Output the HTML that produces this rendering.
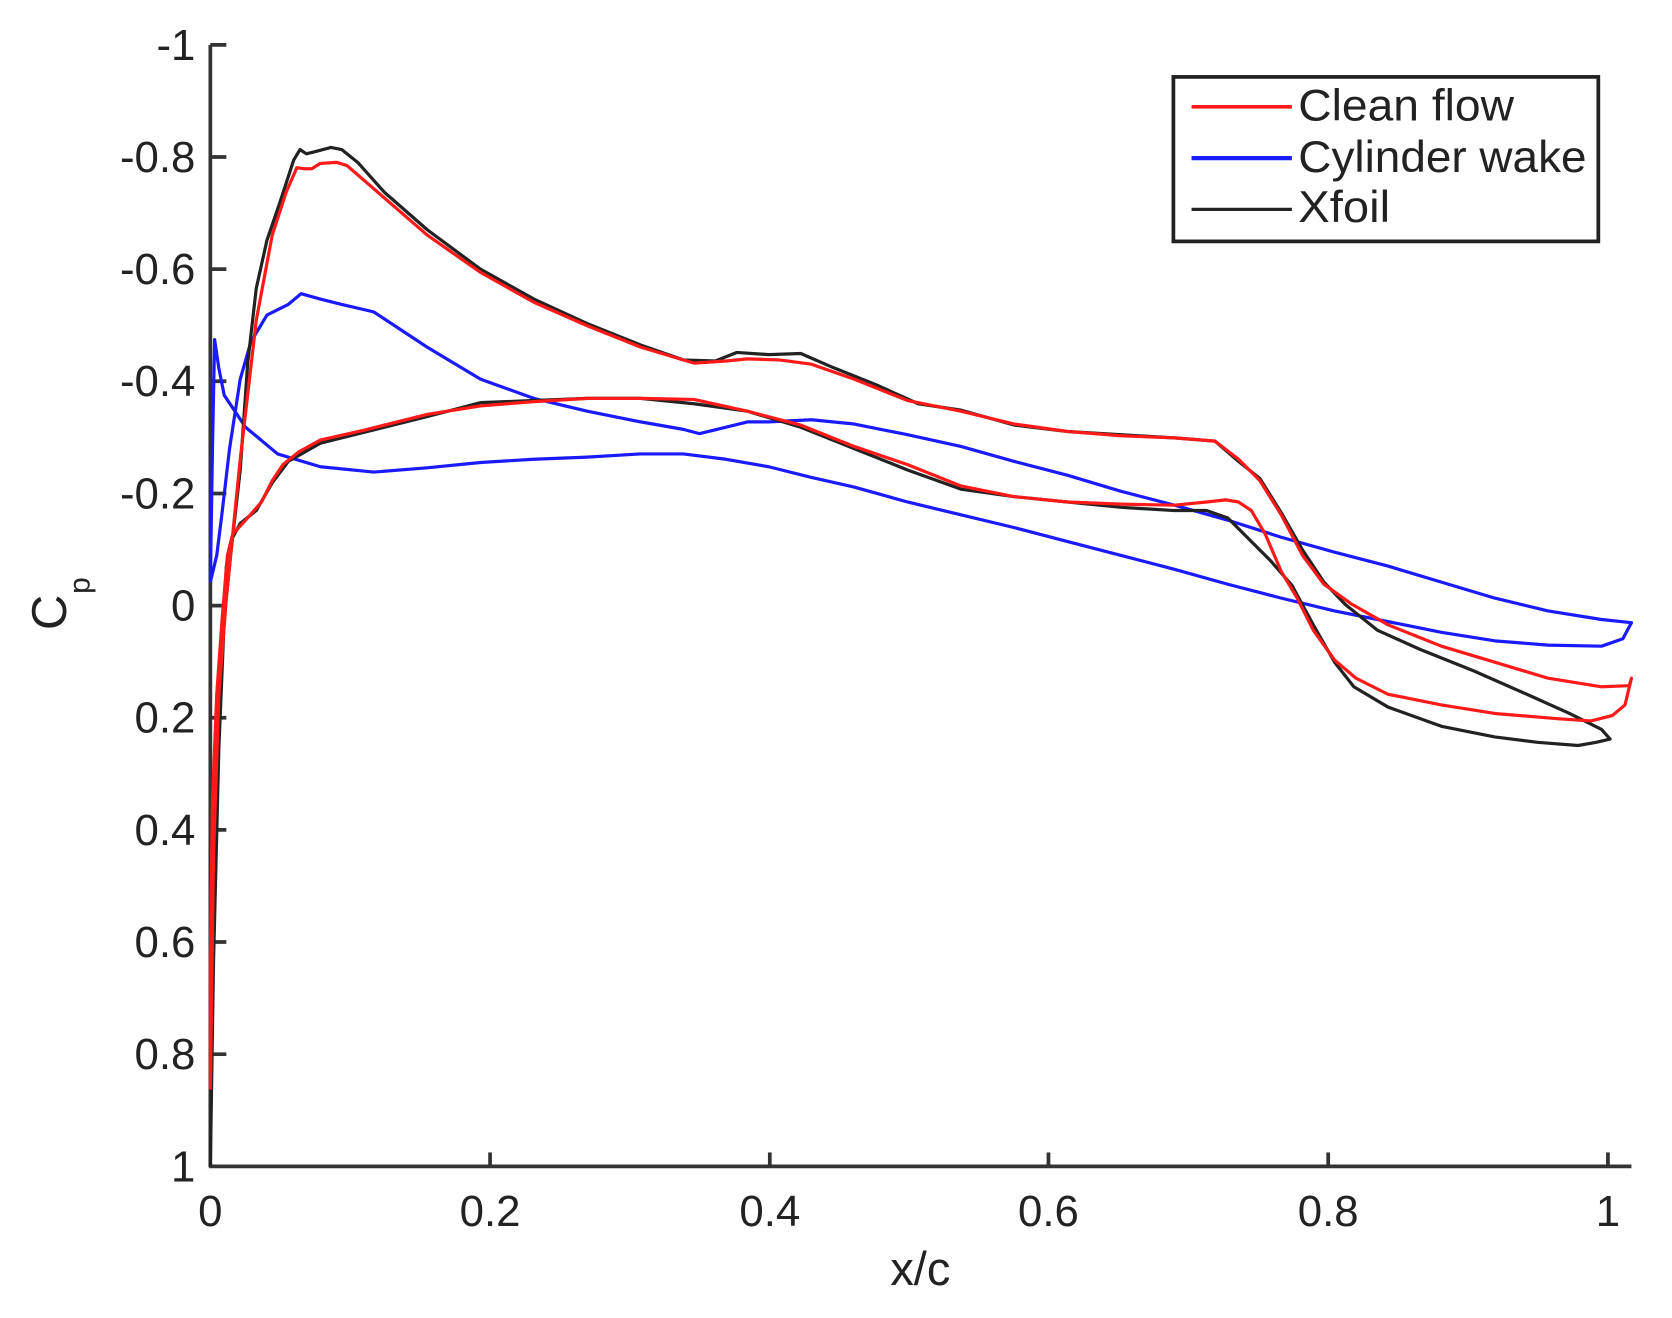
<!DOCTYPE html>
<html><head><meta charset="utf-8"><style>
html,body{margin:0;padding:0;background:#fff;}
svg{display:block;}
text{font-family:"Liberation Sans",sans-serif;fill:#222;}
</style></head><body>
<svg width="1672" height="1318" viewBox="0 0 1566 1234" preserveAspectRatio="none" xmlns="http://www.w3.org/2000/svg">
<rect width="1566" height="1234" fill="#fff"/>
<g stroke="#333" stroke-width="3.5" fill="none">
<line x1="197" y1="42" x2="197" y2="1093"/>
<line x1="196" y1="1092" x2="1528" y2="1092"/>
<line x1="197" y1="42" x2="212" y2="42"/>
<line x1="197" y1="147" x2="212" y2="147"/>
<line x1="197" y1="252" x2="212" y2="252"/>
<line x1="197" y1="357" x2="212" y2="357"/>
<line x1="197" y1="462" x2="212" y2="462"/>
<line x1="197" y1="567" x2="212" y2="567"/>
<line x1="197" y1="672" x2="212" y2="672"/>
<line x1="197" y1="777" x2="212" y2="777"/>
<line x1="197" y1="882" x2="212" y2="882"/>
<line x1="197" y1="987" x2="212" y2="987"/>
<line x1="459" y1="1092" x2="459" y2="1079"/>
<line x1="721" y1="1092" x2="721" y2="1079"/>
<line x1="982" y1="1092" x2="982" y2="1079"/>
<line x1="1244" y1="1092" x2="1244" y2="1079"/>
<line x1="1506" y1="1092" x2="1506" y2="1079"/>
</g>
<g font-size="41" text-anchor="end">
<text x="183" y="56">-1</text>
<text x="183" y="161">-0.8</text>
<text x="183" y="266">-0.6</text>
<text x="183" y="371">-0.4</text>
<text x="183" y="476">-0.2</text>
<text x="183" y="581">0</text>
<text x="183" y="686">0.2</text>
<text x="183" y="791">0.4</text>
<text x="183" y="896">0.6</text>
<text x="183" y="1001">0.8</text>
<text x="183" y="1106">1</text>
</g>
<g font-size="41" text-anchor="middle">
<text x="197" y="1148">0</text>
<text x="459" y="1148">0.2</text>
<text x="721" y="1148">0.4</text>
<text x="982" y="1148">0.6</text>
<text x="1244" y="1148">0.8</text>
<text x="1506" y="1148">1</text>
<text x="862" y="1203" font-size="44">x/c</text>
</g>
<g transform="translate(62,590) rotate(-90)"><text font-size="46" x="0" y="0">C</text><text font-size="28" x="34" y="22">p</text></g>
<g fill="none" stroke-linejoin="round">
<polyline stroke="#1a1aff" stroke-width="3" points="197,545 199,420 201,318 205,345 210,370 230,400 260,425 300,437 350,442 400,438 450,433 500,430 550,428 600,425 640,425 680,430 720,437 760,447 800,456 850,470 900,482 950,494 1000,507 1050,520 1100,533 1150,547 1200,560 1250,572 1300,582 1350,592 1400,600 1450,604 1500,605 1520,598 1528,583 1500,580 1450,572 1400,560 1350,545 1300,530 1250,517 1200,503 1150,487 1100,473 1050,460 1000,445 950,432 900,418 850,407 800,397 760,393 720,395 700,395 680,400 655,406 640,402 600,395 550,385 500,373 450,355 400,325 350,292 320,285 300,280 282,275 270,285 250,295 235,320 225,355 215,420 208,480 203,520 197,545"/>
<polyline stroke="#222" stroke-width="3" points="197,1092 200,900 205,700 210,580 216,520 225,440 232,340 240,270 250,225 262,190 275,150 281,140 287,144 295,142 310,138 320,140 335,152 360,180 400,215 450,252 500,280 550,303 600,323 640,337 670,338 690,330 720,332 750,331 780,344 820,360 860,378 900,384 950,398 1000,404 1050,407 1100,410 1138,413 1160,432 1180,448 1200,480 1220,515 1240,545 1260,566 1290,590 1330,608 1380,628 1430,650 1470,668 1500,683 1508,692 1495,695 1478,698 1440,695 1400,690 1350,680 1300,662 1268,643 1250,620 1230,585 1210,548 1190,525 1170,505 1150,485 1130,478 1100,478 1050,475 1000,470 950,465 900,458 850,440 800,420 750,400 700,385 650,378 600,373 550,373 500,375 450,377 400,390 340,405 300,415 270,432 255,452 240,478 225,490 217,505 212,530 208,600 205,700 200,900 197,1092"/>
<polyline stroke="#ff1a1a" stroke-width="3" points="197,1020 200,800 205,650 212,560 225,430 240,300 255,220 268,180 278,157 285,158 292,158 300,153 315,152 325,155 340,168 400,220 450,255 500,283 550,305 600,325 650,340 680,338 700,336 730,337 760,341 800,355 850,375 900,385 950,397 1000,404 1050,408 1100,410 1138,413 1160,430 1180,450 1200,482 1220,520 1240,547 1265,565 1300,585 1350,605 1400,620 1450,635 1500,643 1526,642 1528,635 1522,660 1510,670 1490,675 1460,673 1400,668 1350,660 1300,650 1270,635 1250,618 1230,590 1215,560 1200,535 1185,500 1172,478 1160,470 1148,468 1130,470 1100,473 1050,472 1000,470 950,465 900,455 850,435 800,418 750,398 700,385 650,374 600,373 550,373 500,376 450,380 400,388 340,403 300,412 280,423 265,435 255,450 245,470 230,487 218,500 213,520 208,580 203,650 199,750 197,900 197,1020"/>
</g>
<rect x="1099" y="72" width="398" height="154" fill="#fff" stroke="#222" stroke-width="3.5"/>
<line x1="1116" y1="100" x2="1210" y2="100" stroke="#ff1a1a" stroke-width="3.5"/>
<line x1="1116" y1="148" x2="1210" y2="148" stroke="#1a1aff" stroke-width="4"/>
<line x1="1116" y1="196" x2="1210" y2="196" stroke="#222" stroke-width="3"/>
<g font-size="42">
<text x="1216" y="113" textLength="202" lengthAdjust="spacingAndGlyphs">Clean flow</text>
<text x="1216" y="161" textLength="270" lengthAdjust="spacingAndGlyphs">Cylinder wake</text>
<text x="1216" y="208" textLength="86" lengthAdjust="spacingAndGlyphs">Xfoil</text>
</g>
</svg>
</body></html>
